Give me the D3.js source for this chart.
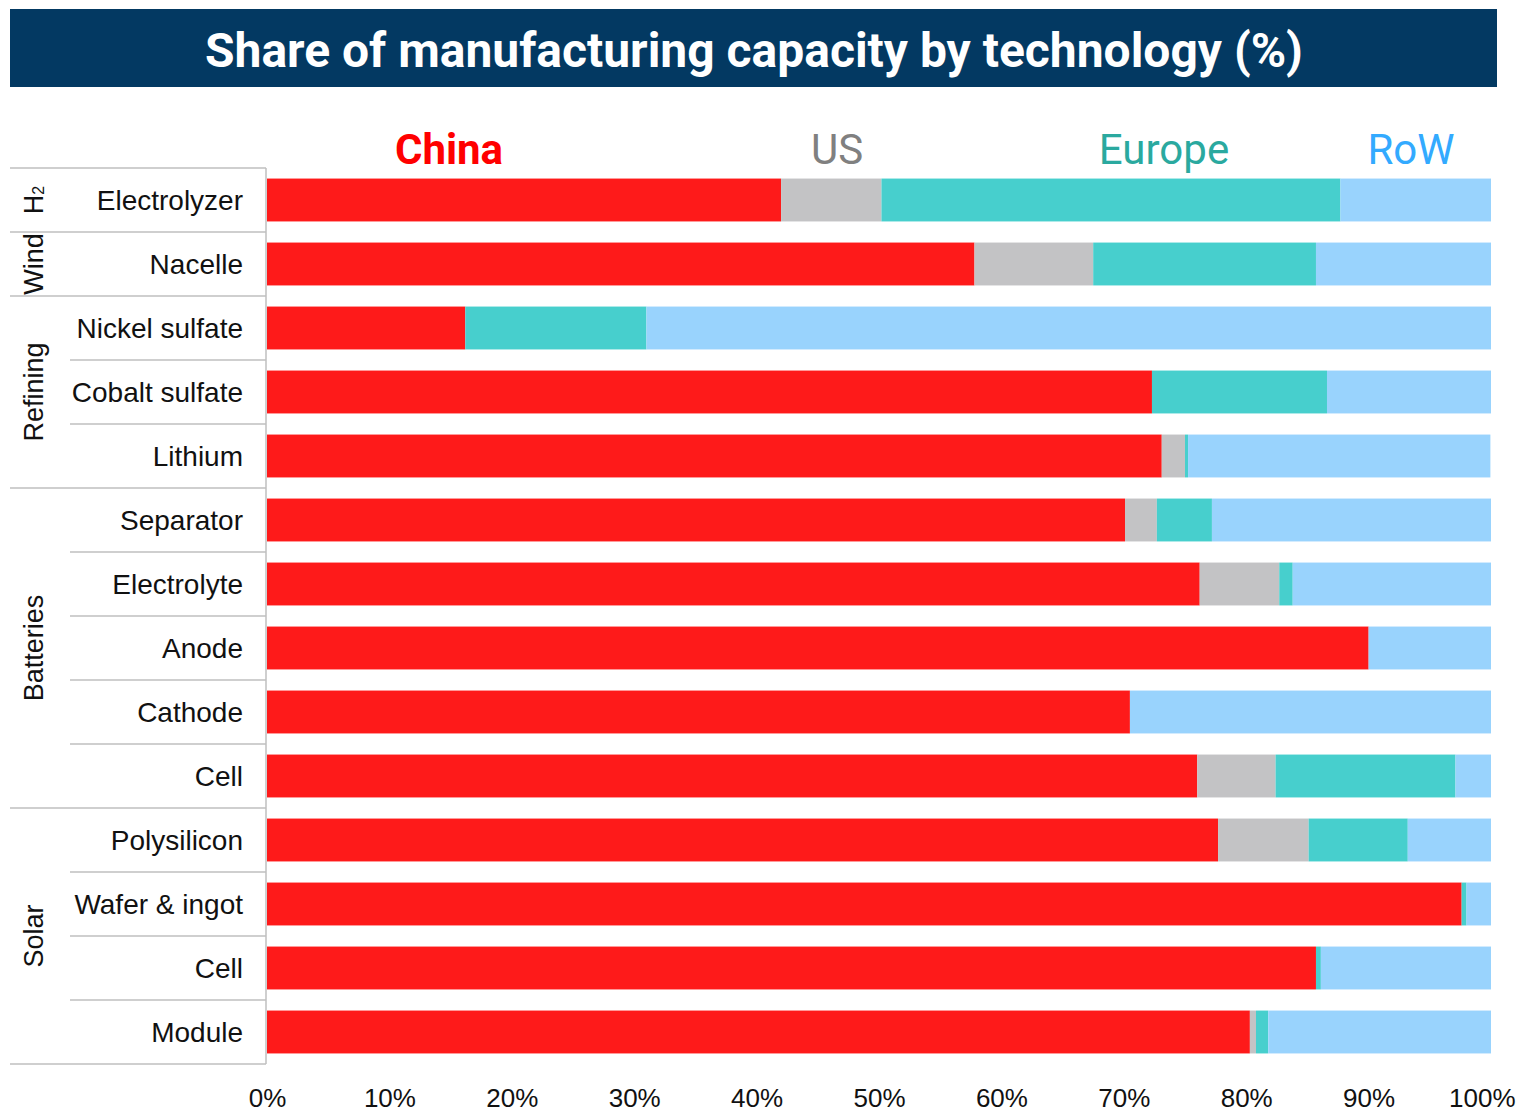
<!DOCTYPE html>
<html>
<head>
<meta charset="utf-8">
<script src="https://cdn.jsdelivr.net/npm/d3@7"></script>
<style>
  html, body { margin: 0; padding: 0; background: #fff; }
  svg { display: block; }
</style>
</head>
<body>
<svg id="chart" width="1516" height="1112"></svg>
<script>
// ---------- DATA ----------
const title = "Share of manufacturing capacity by technology (%)";
const categories = ["Electrolyzer", "Nacelle", "Nickel sulfate", "Cobalt sulfate", "Lithium",
  "Separator", "Electrolyte", "Anode", "Cathode", "Cell",
  "Polysilicon", "Wafer & ingot", "Cell", "Module"];
const groupNames = ["H₂", "Wind", "Refining", "Batteries", "Solar"];
const groupSizes = [1, 1, 3, 5, 4];
const seriesNames = ["China", "US", "Europe", "RoW"];
const china  = [42.0, 57.8, 16.2, 72.3, 73.1, 70.1, 76.2, 90.0, 70.5, 76.0, 77.7, 97.6, 85.7, 80.3];
const us     = [ 8.2,  9.7,  0.0,  0.0,  1.9,  2.6,  6.5,  0.0,  0.0,  6.4,  7.4,  0.0,  0.0,  0.5];
const europe = [37.5, 18.2, 14.8, 14.3, 0.25, 4.5,  1.1,  0.0,  0.0, 14.7,  8.1,  0.4,  0.4,  1.0];
const rowW   = [12.3, 14.3, 69.0, 13.4, 24.7, 22.8, 16.2, 10.0, 29.5,  2.9,  6.8,  2.0, 13.9, 18.2];
const xTicks = [0, 10, 20, 30, 40, 50, 60, 70, 80, 90, 100];

// ---------- STYLE ----------
const barColors = ["#fe1a1a", "#c3c3c5", "#47cfcd", "#99d3fd"];
const legendColors = ["#ff0000", "#808080", "#2aa99f", "#33aaff"];

const svg = d3.select("#chart");

// title bar
svg.append("rect").attr("x", 10).attr("y", 9).attr("width", 1487).attr("height", 78).attr("fill", "#033962");
const t = svg.append("text")
  .attr("x", 754).attr("y", 67)
  .attr("text-anchor", "middle")
  .attr("fill", "#fff")
  .attr("font-family", "Roboto")
  .attr("font-weight", "bold")
  .attr("font-size", 44)
  .text(title);
const tw = t.node().getComputedTextLength();
t.attr("font-size", 44 * 1098 / tw);

// scales
const x = d3.scaleLinear().domain([0, 100]).range([267, 1491]);
const y = d3.scaleBand().domain(d3.range(categories.length)).range([168, 1064])
  .paddingInner(0.33).paddingOuter(0.165);

// legend
const legendX = [449, 837, 1164, 1411];
svg.append("g").selectAll("text").data(seriesNames).join("text")
  .attr("x", (d, i) => legendX[i]).attr("y", 164)
  .attr("text-anchor", "middle")
  .attr("font-family", "Roboto")
  .attr("font-weight", (d, i) => i === 0 ? "bold" : "normal")
  .attr("font-size", 42)
  .attr("fill", (d, i) => legendColors[i])
  .text(d => d);

// stacked bars
const rows = categories.map((c, i) => ({ i, China: china[i], US: us[i], Europe: europe[i], RoW: rowW[i] }));
const stacked = d3.stack().keys(seriesNames)(rows);
svg.append("g").selectAll("g").data(stacked).join("g")
  .attr("fill", (d, k) => barColors[k])
  .selectAll("rect").data(d => d).join("rect")
  .attr("x", d => x(d[0]))
  .attr("width", d => Math.max(0, x(Math.min(100, d[1])) - x(d[0])))
  .attr("y", d => y(d.data.i))
  .attr("height", y.bandwidth());

// grid lines on left
const gap = (y.step() - y.bandwidth()) / 2;
const boundaryY = i => y(i) - gap;
const groupStarts = [];
let acc = 0;
groupSizes.forEach(n => { groupStarts.push(acc); acc += n; });
const lineColor = "#bfbfbf";
const lines = svg.append("g").attr("stroke", lineColor).attr("stroke-width", 1.5);
for (let i = 0; i <= categories.length; i++) {
  const isGroup = i === categories.length || groupStarts.includes(i);
  const yy = i === categories.length ? y(i - 1) + y.bandwidth() + gap : boundaryY(i);
  lines.append("line").attr("x1", isGroup ? 10 : 70).attr("x2", 266)
    .attr("y1", yy).attr("y2", yy);
}
lines.append("line").attr("x1", 266).attr("x2", 266).attr("y1", 168).attr("y2", 1064);

// category labels
svg.append("g").selectAll("text").data(categories).join("text")
  .attr("x", 243)
  .attr("y", (d, i) => y(i) + y.bandwidth() / 2)
  .attr("dy", "0.34em")
  .attr("text-anchor", "end")
  .attr("font-family", "Liberation Sans, Arial")
  .attr("font-size", 28)
  .attr("fill", "#111")
  .text(d => d);

// group labels
groupNames.forEach((g, k) => {
  const y0 = boundaryY(groupStarts[k]);
  const y1 = y0 + groupSizes[k] * y.step();
  const cy = (y0 + y1) / 2;
  const txt = svg.append("text")
    .attr("transform", `translate(43,${cy}) rotate(-90)`)
    .attr("text-anchor", "middle")
    .attr("font-family", "Liberation Sans, Arial")
    .attr("font-size", 27)
    .attr("fill", "#111");
  if (g === "H₂") {
    txt.append("tspan").text("H");
    txt.append("tspan").attr("font-size", 16).attr("dy", 1).text("2");
  } else {
    txt.text(g);
  }
});

// x axis
const ax = svg.append("g").attr("transform", "translate(0,1064)")
  .call(d3.axisBottom(x).tickValues(xTicks).tickFormat(d => d + "%").tickSize(0).tickPadding(25));
ax.select(".domain").remove();
ax.selectAll("text")
  .attr("font-family", "Liberation Sans, Arial")
  .attr("font-size", 26)
  .attr("fill", "#111");
// keep the last tick label inside the picture
ax.selectAll(".tick").filter(d => d === 100).select("text")
  .attr("text-anchor", "end").attr("x", 1515 - x(100));
</script>
</body>
</html>
